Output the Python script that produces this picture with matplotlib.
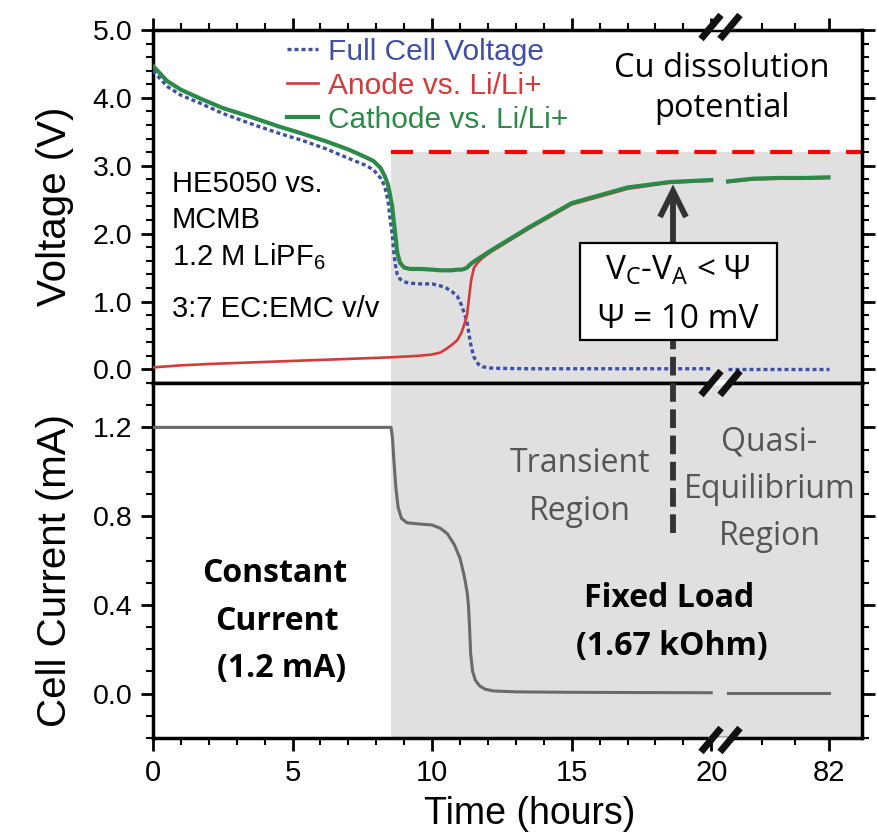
import numpy as np
import matplotlib
matplotlib.use("Agg")
import matplotlib.pyplot as plt
from matplotlib.lines import Line2D
from matplotlib.patches import Rectangle
from matplotlib.ticker import FixedLocator, FormatStrFormatter, MultipleLocator

# ---------------- data (hours, V, mA) ----------------
t_cell = [0, 0.5, 1.0, 1.7, 2.5, 3.5, 4.5, 5.3, 6.2, 7.0, 7.6, 7.9, 8.15, 8.3, 8.42,
          8.5, 8.57, 8.62, 8.68, 8.75, 8.85, 9.0, 9.2, 9.6, 10.0, 10.3, 10.5, 10.7,
          10.9, 11.05, 11.15, 11.25, 11.32, 11.4, 11.5, 11.65, 11.8, 12.1, 12.5,
          13.5, 15.0, 17.0, 18.5, 20.0]
v_full = [4.40, 4.17, 4.04, 3.92, 3.77, 3.62, 3.48, 3.38, 3.25, 3.11, 3.01, 2.94,
          2.82, 2.70, 2.48, 2.20, 1.99, 1.75, 1.55, 1.40, 1.33, 1.29, 1.27, 1.26,
          1.26, 1.23, 1.20, 1.15, 1.08, 0.95, 0.83, 0.70, 0.52, 0.33, 0.18, 0.08,
          0.04, 0.02, 0.015, 0.01, 0.01, 0.01, 0.01, 0.01]
v_cathode = [4.47, 4.25, 4.12, 3.99, 3.85, 3.72, 3.58, 3.48, 3.36, 3.24, 3.13, 3.07,
             2.97, 2.85, 2.72, 2.55, 2.40, 2.20, 1.99, 1.72, 1.57, 1.50, 1.48, 1.48,
             1.47, 1.46, 1.46, 1.46, 1.47, 1.47, 1.48, 1.50, 1.53, 1.56, 1.59, 1.63,
             1.67, 1.75, 1.85, 2.10, 2.45, 2.68, 2.76, 2.79]
t_anode = [0, 1, 2, 4, 6, 8, 8.6, 9.5, 10.0, 10.3, 10.5, 10.7, 10.9, 11.05, 11.15,
           11.25, 11.32, 11.4, 11.5, 11.65, 11.8, 12.1, 12.5, 13.5, 15.0, 17.0,
           18.5, 20.0]
v_anode = [0.03, 0.06, 0.08, 0.11, 0.14, 0.17, 0.18, 0.20, 0.22, 0.25, 0.30, 0.36,
           0.43, 0.54, 0.66, 0.80, 1.05, 1.32, 1.50, 1.58, 1.64, 1.73, 1.83, 2.08,
           2.43, 2.66, 2.75, 2.78]
t_cur = [0, 8.53, 8.58, 8.63, 8.7, 8.78, 8.9, 9.1, 9.5, 10.0, 10.3, 10.55, 10.8,
         11.0, 11.15, 11.25, 11.3, 11.34, 11.38, 11.45, 11.55, 11.7, 11.9, 12.2,
         13.0, 15.0, 17.0, 20.0]
i_cell = [1.2, 1.2, 1.15, 1.05, 0.93, 0.84, 0.79, 0.77, 0.765, 0.76, 0.745, 0.72,
          0.67, 0.61, 0.53, 0.46, 0.40, 0.30, 0.18, 0.10, 0.06, 0.035, 0.02, 0.012,
          0.008, 0.006, 0.005, 0.004]
# after the axis break
t_tail = [70, 73, 76, 79, 82]
v_full_tail = [0.01, 0.01, 0.01, 0.01, 0.01]
v_anode_tail = [2.76, 2.80, 2.81, 2.81, 2.82]
v_cathode_tail = [2.77, 2.81, 2.82, 2.82, 2.83]
i_tail = [0.004, 0.004, 0.004, 0.004, 0.004]

fixed_load_start = 8.53     # h
cu_dissolution_v = 3.2      # V
x_major = [0, 5, 10, 15, 20, 82]
x_minor = [h for h in range(1, 20) if h % 5] + [74, 78]

# ---------------- broken time scale ----------------
B0, B1, GAP, SLOPE = 20.2, 70.0, 0.4, 0.3

def fwd(t):
    t = np.asarray(t, dtype=float)
    return np.where(t <= B0, t,
                    np.where(t < B1, B0 + (t - B0) * (GAP / (B1 - B0)),
                             B0 + GAP + (t - B1) * SLOPE))

def inv(u):
    u = np.asarray(u, dtype=float)
    return np.where(u <= B0, u,
                    np.where(u < B0 + GAP, B0 + (u - B0) * ((B1 - B0) / GAP),
                             B1 + (u - B0 - GAP) / SLOPE))

# ---------------- style ----------------
plt.rcParams['font.family'] = ['Liberation Sans', 'DejaVu Sans']
plt.rcParams['mathtext.default'] = 'regular'
C_BLUE, C_RED, C_GREEN, C_GRAY = '#3d4fa8', '#d53a3a', '#2b8a48', '#6a6a6a'
SHADE = '#e0e0e0'
CAL = ['Open Sans', 'DejaVu Sans']

W, H = 877, 836
fig = plt.figure(figsize=(W / 100, H / 100), dpi=100)
L, R = 153, 862
ax1 = fig.add_axes([L / W, 1 - 383 / H, (R - L) / W, (383 - 30) / H])
ax2 = fig.add_axes([L / W, 1 - 738 / H, (R - L) / W, (738 - 383) / H])

for ax in (ax1, ax2):
    ax.set_xscale('function', functions=(fwd, inv))
    ax.set_xlim(0, 86)
    ax.xaxis.set_major_locator(FixedLocator(x_major))
    ax.xaxis.set_minor_locator(FixedLocator(x_minor))
    ax.xaxis.set_major_formatter(FormatStrFormatter('%d'))
    for s in ax.spines.values():
        s.set_linewidth(2.5)
    ax.tick_params(which='major', direction='out', length=9, width=2, labelsize=20.5, pad=6)
    ax.tick_params(which='minor', direction='out', length=5, width=1.5)
    ax.tick_params(axis='x', which='major', labelsize=21)

# top panel
ax1.set_ylim(-0.2, 5.0)
ax1.yaxis.set_major_locator(MultipleLocator(1.0))
ax1.yaxis.set_minor_locator(MultipleLocator(0.2))
ax1.yaxis.set_major_formatter(FormatStrFormatter('%.1f'))
ax1.tick_params(axis='x', which='both', top=True, bottom=True, labelbottom=False)
ax1.tick_params(axis='y', which='both', left=True, right=True)

ax1.fill_between([fixed_load_start, 86], -0.3, cu_dissolution_v, color=SHADE, lw=0, zorder=0)
ax1.hlines(cu_dissolution_v, fixed_load_start, 86, colors='#ff0000', lw=3,
           linestyles=(0, (5.3, 3.8)), zorder=2)

l_full, = ax1.plot(t_cell, v_full, color=C_BLUE, lw=2.4, ls=(0, (1.2, 0.9)),
                   label='Full Cell Voltage', zorder=3)
ax1.plot(t_tail, v_full_tail, color=C_BLUE, lw=2.4, ls=(0, (1.2, 0.9)), zorder=3)
l_an, = ax1.plot(t_anode, v_anode, color=C_RED, lw=1.9, label='Anode vs. Li/Li+', zorder=3)
ax1.plot(t_tail, v_anode_tail, color=C_RED, lw=1.9, zorder=3)
l_ca, = ax1.plot(t_cell, v_cathode, color=C_GREEN, lw=3.0, label='Cathode vs. Li/Li+', zorder=4)
ax1.plot(t_tail, v_cathode_tail, color=C_GREEN, lw=3.0, zorder=4)

leg = ax1.legend(handles=[l_full, l_an, l_ca], loc='upper left',
                 bbox_to_anchor=((287 - L) / (R - L), 0.978), frameon=False,
                 fontsize=21.5, labelcolor='linecolor', borderpad=0, borderaxespad=0,
                 handlelength=1.05, handletextpad=0.33, labelspacing=0.2)

ax1.set_ylabel('Voltage (V)', fontsize=29)
ax1.yaxis.set_label_coords((74 - L) / (R - L), 0.5)

# bottom panel
ax2.set_ylim(-0.2, 1.4)
ax2.yaxis.set_major_locator(FixedLocator([0.0, 0.4, 0.8, 1.2]))
ax2.yaxis.set_minor_locator(MultipleLocator(0.1))
ax2.yaxis.set_major_formatter(FormatStrFormatter('%.1f'))
ax2.tick_params(axis='x', which='both', top=False, bottom=True)
ax2.tick_params(axis='y', which='both', left=True, right=True)
ax2.fill_between([fixed_load_start, 86], -0.3, 1.5, color=SHADE, lw=0, zorder=0)
ax2.plot(t_cur, i_cell, color=C_GRAY, lw=2.2, zorder=3)
ax2.plot(t_tail, i_tail, color=C_GRAY, lw=2.2, zorder=3)
ax2.set_ylabel('Cell Current (mA)', fontsize=29)
ax2.yaxis.set_label_coords((74 - L) / (R - L), 0.473)
ax2.set_xlabel('Time (hours)', fontsize=27)
ax2.xaxis.set_label_coords((530 - L) / (R - L), -(796 - 738) / (738 - 383))
ax2.xaxis.label.set_va('top')

# ---------------- annotations (figure pixel coords) ----------------
def P(x, y):
    return x / W, 1 - y / H

def ftext(x, y, s, **kw):
    fig.text(*P(x, y), s, **kw)

for s, yb in [('HE5050 vs.', 192), ('MCMB', 228), ('1.2 M LiPF$_6$', 265),
              ('3:7 EC:EMC v/v', 317)]:
    ftext(172, yb, s, fontsize=21, ha='left', va='baseline')

ftext(722, 77, 'Cu dissolution', fontsize=23.5, family=CAL, ha='center', va='baseline')
ftext(722, 117, 'potential', fontsize=23.5, family=CAL, ha='center', va='baseline')

for s, x, yb in [('Transient', 580, 472), ('Region', 580, 520),
                 ('Quasi-', 769, 450), ('Equilibrium', 770, 498), ('Region', 770, 545)]:
    ftext(x, yb, s, fontsize=23, family=CAL, color='#555555', ha='center', va='baseline')

for s, x, yb in [('Constant', 275, 582), ('Current', 277, 630), ('(1.2 mA)', 282, 677),
                 ('Fixed Load', 669, 607), ('(1.67 kOhm)', 672, 655)]:
    ftext(x, yb, s, fontsize=23, family=CAL, fontweight='bold', ha='center', va='baseline')

# dashed arrow
AX = 673
fig.add_artist(Line2D([AX / W, AX / W], [1 - 533 / H, 1 - 242 / H], transform=fig.transFigure,
                      color='#333333', lw=4.2, ls=(0, (3.2, 1.3)), zorder=5))
fig.add_artist(Line2D([AX / W, AX / W], [1 - 244 / H, 1 - 196 / H], transform=fig.transFigure,
                      color='#333333', lw=4.2, zorder=5, solid_capstyle='butt'))
fig.add_artist(Line2D([660 / W, AX / W, 686 / W], [1 - 217 / H, 1 - 191 / H, 1 - 217 / H],
                      transform=fig.transFigure, color='#333333', lw=4.2, zorder=5,
                      solid_joinstyle='miter', solid_capstyle='butt'))

# box
fig.add_artist(Rectangle(P(580, 340), 197 / W, 97 / H, transform=fig.transFigure,
                         facecolor='white', edgecolor='black', lw=1.6, zorder=6))
ftext(678, 280, 'V$_C$-V$_A$ < Ψ', fontsize=24, family=CAL, ha='center', va='baseline', zorder=7)
ftext(678, 328, 'Ψ = 10 mV', fontsize=24, family=CAL, ha='center', va='baseline', zorder=7)

# axis break marks
for cy in (27, 383, 740):
    fig.add_artist(Line2D([711 / W, 730 / W], [1 - cy / H, 1 - cy / H], transform=fig.transFigure,
                          color='white', lw=4, zorder=8))
    for cx in (711, 730):
        fig.add_artist(Line2D([(cx - 10) / W, (cx + 10) / W], [1 - (cy + 12) / H, 1 - (cy - 12) / H],
                              transform=fig.transFigure, color='#111111', lw=5,
                              solid_capstyle='butt', zorder=9))

fig.savefig('out.png', dpi=100)
